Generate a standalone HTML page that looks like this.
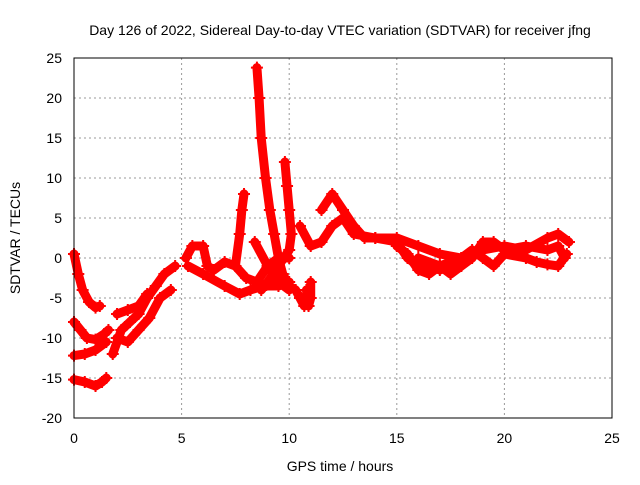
<!DOCTYPE html>
<html><head><meta charset="utf-8"><style>
body{margin:0;background:#fff}
svg text{font-family:"Liberation Sans",sans-serif;font-size:14px;fill:#000}
</style></head><body>
<svg id="chart" width="640" height="480" xmlns="http://www.w3.org/2000/svg">
<rect width="640" height="480" fill="#fff"/>
<text x="340" y="35" text-anchor="middle">Day 126 of 2022, Sidereal Day-to-day VTEC variation (SDTVAR) for receiver jfng</text>
<text x="340" y="471" text-anchor="middle">GPS time / hours</text>
<text transform="translate(20,238) rotate(-90)" text-anchor="middle">SDTVAR / TECUs</text>
<g id="grid"></g>
<g id="marks"></g>
<rect x="74" y="58" width="538" height="360" fill="none" stroke="#000"/>
</svg>
<script>
const xTicks=[0,5,10,15,20,25];
const yTicks=[-20,-15,-10,-5,0,5,10,15,20,25];
const track1=[[0,0.5],[0.2,-2],[0.4,-4],[0.7,-5.5],[1,-6.2],[1.2,-6]];
const track2=[[0,-8],[0.3,-9],[0.6,-10],[1,-10.2],[1.4,-9.5],[1.6,-9]];
const track3=[[0,-12.2],[0.5,-12],[1,-11.5],[1.5,-10.5]];
const track4=[[0,-15.2],[0.5,-15.5],[1,-16],[1.3,-15.5],[1.5,-15]];
const track5=[[1.8,-12],[2.2,-9],[2.6,-8],[3,-7],[3.4,-5],[3.8,-3.5],[4.2,-2],[4.7,-1]];
const track6=[[2,-10],[2.5,-10.5],[3,-9],[3.5,-7.5],[4,-5],[4.5,-4]];
const track7=[[2,-7],[2.5,-6.5],[3,-6],[3.4,-4.5]];
const track8=[[5.2,0],[5.5,1.5],[6,1.5],[6.2,-1],[6.5,-1.5],[7,-0.5],[7.5,-1],[8,-2.5],[8.5,-3],[9,-1],[9.5,0],[10,0]];
const track9=[[5.3,-1],[6,-2],[7,-3.5],[7.7,-4.5],[8.2,-4],[8.8,-3.5],[9.5,-3.5],[10,-3]];
const track10=[[7.5,-1],[7.7,3],[7.8,6],[7.9,8]];
const track11=[[8.5,23.8],[8.6,20],[8.7,15],[8.9,10],[9.1,6],[9.3,3],[9.5,0],[9.7,-2],[10,-3.5],[10.3,-4],[10.5,-5],[10.7,-6]];
const track12=[[9.8,12],[9.9,9],[10,6],[10.1,3],[10,1],[9.5,-1],[9,-3],[8.7,-4]];
const track13=[[8.4,2],[9,-1],[9.5,-3],[10,-4]];
const track14=[[10.5,4],[11,1.5],[11.5,2],[12,4],[12.5,5],[13,3],[14,2.5],[15,2],[15.5,0],[16,-1],[16.5,-1],[17,-1.5],[17.5,-1],[18,0]];
const track15=[[11.5,6],[12,8],[12.5,6],[13,4],[13.5,2.5],[14,2.5],[15,2.5],[16,1.5],[17,0.5],[18,0],[19,1],[20,1.5],[21,1],[22,2.5],[22.5,3],[23,2]];
const track16=[[15,1.5],[15.5,0.5],[16,-1.5],[16.5,-2],[17,-1],[18,0],[18.5,1],[19,0],[19.5,-1],[20,0.5],[21,0],[21.5,-0.5],[22,-0.8],[22.5,-1],[22.9,0.5]];
const track17=[[16,0],[17,-1],[17.5,-2],[18,-1],[18.5,0],[19,2],[19.5,2],[20,1],[21,1.5],[22,1],[22.5,1.5],[22.8,0]];
const track18=[[10.8,-4],[10.9,-6],[11,-5],[11,-3]];
const tracks=[track1,track2,track3,track4,track5,track6,track7,track8,track9,track10,track11,track12,track13,track14,track15,track16,track17,track18];
const NS="http://www.w3.org/2000/svg";
const X=t=>74+t*538/25, Y=v=>58+(25-v)*8;
const grid=document.getElementById('grid'), marks=document.getElementById('marks'), svg=document.getElementById('chart');
function mk(tag,at,parent){const e=document.createElementNS(NS,tag);for(const k in at)e.setAttribute(k,at[k]);parent.appendChild(e);return e;}
xTicks.forEach(t=>{
  if(t>0&&t<25){const l=mk('line',{x1:X(t),x2:X(t),y1:58,y2:418,stroke:'#999','stroke-dasharray':'2,3'},grid);
  
  }
  const tx=mk('text',{x:X(t),y:443,'text-anchor':'middle'},svg);tx.textContent=t;
  
  
});
yTicks.forEach(v=>{
  if(v>-20&&v<25){const l=mk('line',{x1:74,x2:612,y1:Y(v),y2:Y(v),stroke:'#999','stroke-dasharray':'2,3'},grid);
  
  }
  const tx=mk('text',{x:62,y:Y(v)+5,'text-anchor':'end'},svg);tx.textContent=v;
  
  
});
tracks.forEach(tr=>{
  const pl=mk('polyline',{points:tr.map(p=>X(p[0])+','+Y(p[1])).join(' '),fill:'none',stroke:'#f00','stroke-width':9,'stroke-linejoin':'round','stroke-linecap':'round'},marks);
  
  
  tr.forEach(p=>{
    const x=X(p[0]),y=Y(p[1]);
    const m=mk('path',{d:`M${x-6},${y}H${x+6}M${x},${y-6}V${y+6}`,stroke:'#f00','stroke-width':2},marks);
    
    
  });
});
</script>
</body></html>
